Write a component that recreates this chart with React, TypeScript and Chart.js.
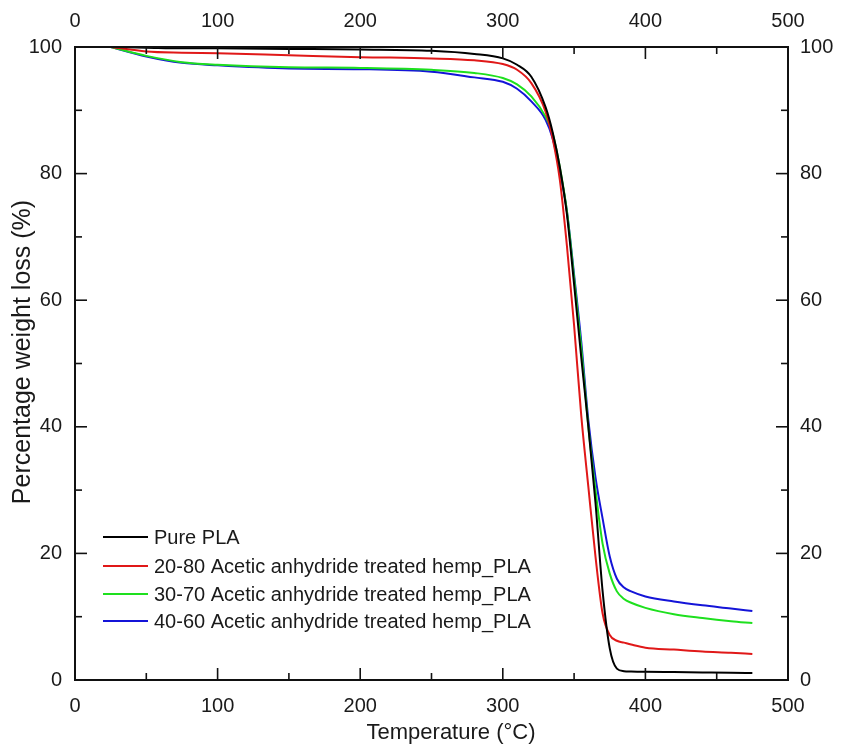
import React, { useEffect, useRef } from "react";
import { Chart, registerables } from "chart.js";

Chart.register(...registerables);

// Temperature grid (°C)
const temperatures = [25, 50, 75, 100, 150, 200, 250, 280, 300, 310, 320, 330, 335, 340, 345, 350, 355, 360, 365, 370, 375, 380, 385, 390, 400, 420, 440, 460, 475];

// Percentage weight (%) per series
const purePLA = [100, 99.9, 99.8, 99.8, 99.7, 99.6, 99.4, 98.9, 98.2, 97.2, 95.3, 90.5, 86.5, 81, 73.5, 62.5, 51, 40, 28, 14, 5, 1.8, 1.4, 1.35, 1.3, 1.25, 1.2, 1.15, 1.1];
const hemp2080 = [100, 99.3, 99.1, 99.0, 98.7, 98.4, 98.2, 97.9, 97.3, 96.4, 94.3, 89.8, 85.5, 79, 68.5, 56, 41.8, 30.5, 19.5, 10.5, 7.1, 6.2, 5.9, 5.6, 5.1, 4.8, 4.5, 4.3, 4.1];
const hemp3070 = [100, 98.6, 97.6, 97.2, 96.8, 96.7, 96.4, 95.9, 95.1, 94.1, 92.2, 89.0, 86.3, 81, 74, 63.5, 52.5, 40, 30, 21.5, 16.8, 14.0, 12.8, 12.2, 11.4, 10.4, 9.8, 9.3, 9.0];
const hemp4060 = [100, 98.5, 97.5, 97.1, 96.6, 96.5, 96.1, 95.2, 94.5, 93.4, 91.4, 88.5, 85.5, 80.5, 74, 64, 53.5, 41, 32, 25.5, 19.5, 16.0, 14.6, 14.0, 13.2, 12.4, 11.8, 11.3, 10.9];

const seriesLabels = [
  "Pure PLA",
  "20-80 Acetic anhydride treated hemp_PLA",
  "30-70 Acetic anhydride treated hemp_PLA",
  "40-60 Acetic anhydride treated hemp_PLA",
];
const seriesColors = ["#000000", "#e01818", "#1ee01e", "#1414d8"];
const seriesValues = [purePLA, hemp2080, hemp3070, hemp4060];

// Axis ticks
const xMajorTicks = [0, 100, 200, 300, 400, 500];
const xMinorTicks = [50, 150, 250, 350, 450];
const yMajorTicks = [0, 20, 40, 60, 80, 100];
const yMinorTicks = [10, 30, 50, 70, 90];

const xTitle = "Temperature (°C)";
const yTitle = "Percentage weight loss (%)";

const FONT = "'Liberation Sans', Arial, Helvetica, sans-serif";
const TEXT = "#1a1a1a";

const frameTicksPlugin = {
  id: "frameTicks",
  afterDraw(chart: any) {
    const { ctx, chartArea, scales } = chart;
    const { left, right, top, bottom } = chartArea;
    ctx.save();
    ctx.strokeStyle = "#111";
    ctx.lineWidth = 1.6;
    const seg = (x1: number, y1: number, x2: number, y2: number) => {
      ctx.beginPath();
      ctx.moveTo(x1, y1);
      ctx.lineTo(x2, y2);
      ctx.stroke();
    };
    const xs = scales.x;
    const ys = scales.y;
    xMajorTicks.forEach((v) => {
      const p = xs.getPixelForValue(v);
      seg(p, bottom, p, bottom - 12);
      seg(p, top, p, top + 12);
    });
    xMinorTicks.forEach((v) => {
      const p = xs.getPixelForValue(v);
      seg(p, bottom, p, bottom - 7);
      seg(p, top, p, top + 7);
    });
    yMajorTicks.forEach((v) => {
      const p = ys.getPixelForValue(v);
      seg(left, p, left + 12, p);
      seg(right, p, right - 12, p);
    });
    yMinorTicks.forEach((v) => {
      const p = ys.getPixelForValue(v);
      seg(left, p, left + 7, p);
      seg(right, p, right - 7, p);
    });
    ctx.lineWidth = 2;
    ctx.strokeRect(left, top, right - left, bottom - top);

    // axis titles
    ctx.fillStyle = TEXT;
    ctx.textAlign = "center";
    ctx.textBaseline = "middle";
    ctx.font = `22px ${FONT}`;
    ctx.fillText(xTitle, left + 376, bottom + 53);
    ctx.save();
    ctx.translate(23, top + 305);
    ctx.rotate(-Math.PI / 2);
    ctx.font = `25px ${FONT}`;
    ctx.fillText(yTitle, 0, 0);
    ctx.restore();

    // legend inside plot area
    const rows = [537, 566, 594, 621];
    ctx.font = `20px ${FONT}`;
    ctx.textBaseline = "middle";
    ctx.textAlign = "left";
    chart.data.datasets.forEach((ds: any, i: number) => {
      const y = rows[i];
      ctx.strokeStyle = ds.borderColor;
      ctx.lineWidth = 2;
      seg(left + 28, y, left + 73, y);
      ctx.fillStyle = TEXT;
      ctx.fillText(ds.label, left + 79, y + 1);
    });
    ctx.restore();
  },
};

export default function App() {
  const canvasRef = useRef<HTMLCanvasElement | null>(null);

  useEffect(() => {
    document.body.style.margin = "0";
    const canvas = canvasRef.current;
    if (!canvas) return;

    const datasets = seriesValues.map((vals, i) => ({
      label: seriesLabels[i],
      data: temperatures.map((t, j) => ({ x: t, y: vals[j] })),
      borderColor: seriesColors[i],
      backgroundColor: seriesColors[i],
      borderWidth: 2,
      pointRadius: 0,
      fill: false,
      cubicInterpolationMode: "monotone" as const,
    }));

    const tickFont = { family: FONT, size: 20 };

    const chart = new Chart(canvas, {
      type: "line",
      data: { datasets },
      plugins: [frameTicksPlugin],
      options: {
        animation: false,
        responsive: false,
        devicePixelRatio: 1,
        layout: { padding: 0 },
        plugins: {
          legend: { display: false },
          tooltip: { enabled: false },
        },
        scales: {
          x: {
            type: "linear",
            position: "bottom",
            min: 0,
            max: 500,
            grid: { display: false, drawTicks: false },
            border: { display: false },
            ticks: { stepSize: 100, font: tickFont, color: TEXT, padding: 14, maxRotation: 0 },
            afterFit: (s: any) => {
              s.height = 68;
            },
          },
          x2: {
            type: "linear",
            position: "top",
            min: 0,
            max: 500,
            grid: { display: false, drawTicks: false },
            border: { display: false },
            ticks: { stepSize: 100, font: tickFont, color: TEXT, padding: 14, maxRotation: 0 },
            afterFit: (s: any) => {
              s.height = 47;
            },
          },
          y: {
            type: "linear",
            position: "left",
            min: 0,
            max: 100,
            grid: { display: false, drawTicks: false },
            border: { display: false },
            ticks: { stepSize: 20, font: tickFont, color: TEXT, padding: 13 },
            afterFit: (s: any) => {
              s.width = 75;
            },
          },
          y2: {
            type: "linear",
            position: "right",
            min: 0,
            max: 100,
            grid: { display: false, drawTicks: false },
            border: { display: false },
            ticks: { stepSize: 20, font: tickFont, color: TEXT, padding: 12 },
            afterFit: (s: any) => {
              s.width = 54;
            },
          },
        },
      },
    });

    return () => chart.destroy();
  }, []);

  return (
    <div style={{ position: "absolute", left: 0, top: 0, width: 842, height: 748, background: "#fff" }}>
      <canvas ref={canvasRef} width={842} height={748} style={{ display: "block" }} />
    </div>
  );
}
